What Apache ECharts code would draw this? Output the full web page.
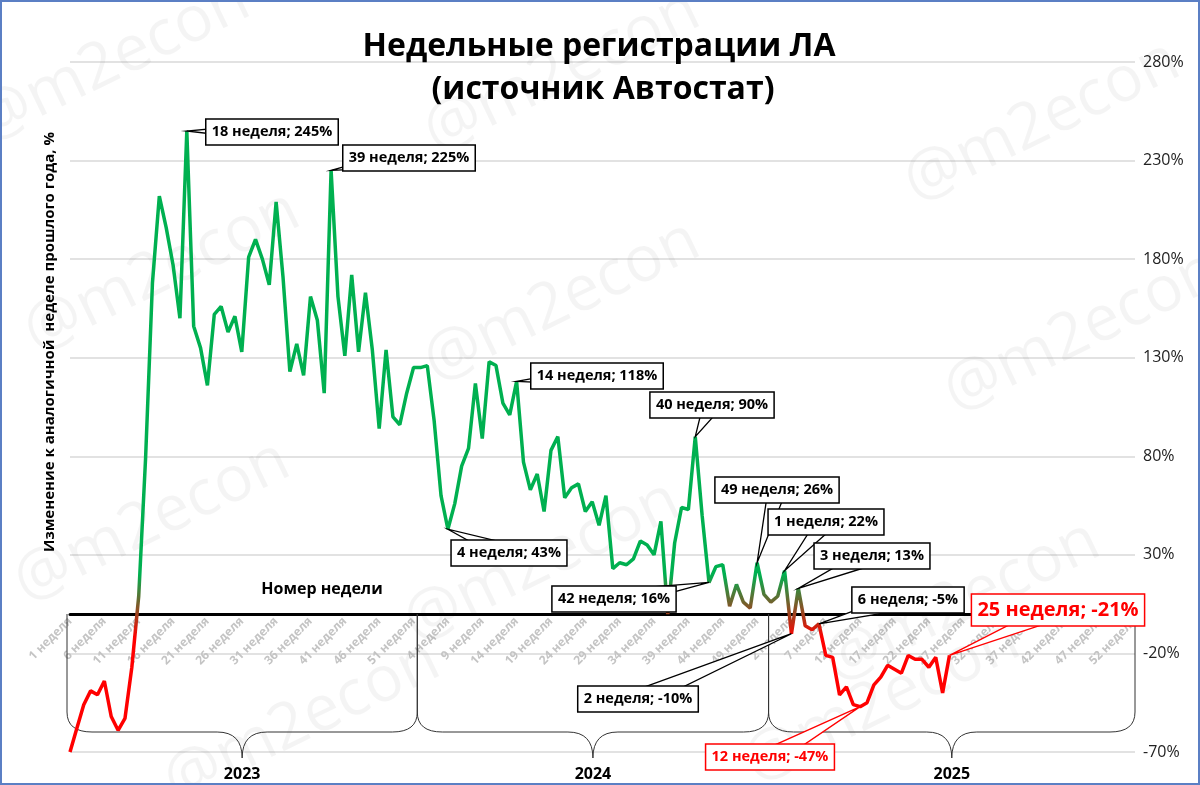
<!DOCTYPE html>
<html><head><meta charset="utf-8">
<script src="https://cdn.jsdelivr.net/npm/echarts@6/dist/echarts.min.js"></script>
<style>html,body{margin:0;padding:0;background:#fff}#c{width:1200px;height:785px;box-sizing:border-box;border:2px solid #5b7fc4}</style>
</head><body><div id="c"></div>
<script>
const weeks2023 = [-70,-58,-46,-39,-41,-34,-52,-59,-53,-27,9,79,168,212,196,177,150,245,146,135,116,152,156,143,151,133,181,190,180,167,209,171,123,137,121,161,149,112,225,161,131,172,133,163,134,94,134,100,96,112,125,125];
const weeks2024 = [126,98,60,43,56,75,84,117,89,128,126,107,101,118,77,63,71,52,83,90,59,64,66,52,57,45,60,23,26,25,28,37,35,30,47,0,36,54,53,90,50,16,24,25,4,15,6,3,26,10,6,9];
const weeks2025 = [22,-10,13,-6,-8,-5,-21,-22,-41,-37,-46,-47,-45,-36,-32,-26,-28,-30,-21,-23,-23,-27,-22,-40,-21];
const yTicks = {min:-70, max:280, interval:50};
const years = ['2023','2024','2025'];
const annotations = [
  {t:'18 неделя; 245%', i:17, v:245, bx:270, by:130},
  {t:'39 неделя; 225%', i:38, v:225, bx:407, by:156},
  {t:'14 неделя; 118%', i:65, v:118, bx:595, by:374},
  {t:'4 неделя; 43%', i:55, v:43, bx:507, by:551},
  {t:'40 неделя; 90%', i:91, v:90, bx:710, by:403},
  {t:'42 неделя; 16%', i:93, v:16, bx:612, by:597},
  {t:'49 неделя; 26%', i:100, v:26, bx:775, by:488},
  {t:'1 неделя; 22%', i:104, v:22, bx:824, by:520},
  {t:'3 неделя; 13%', i:106, v:13, bx:870, by:554},
  {t:'6 неделя; -5%', i:109, v:-5, bx:906, by:598},
  {t:'2 неделя; -10%', i:105, v:-10, bx:636, by:697},
  {t:'12 неделя; -47%', i:115, v:-47, bx:768, by:755, red:true},
  {t:'25 неделя; -21%', i:128, v:-21, bx:1056, by:608, red:true, big:true}
];
const cats = [];
const vals = [];
[weeks2023, weeks2024, weeks2025].forEach(arr => {
  for (let w = 1; w <= 52; w++) { cats.push(w + ' неделя'); vals.push(w <= arr.length ? arr[w-1] : null); }
});
const gridTop = 60, gridBottom = 31, H = 785;
const zeroPx = gridTop + (H - gridTop - gridBottom) * (yTicks.max - 0) / (yTicks.max - yTicks.min);
const bottomPx = H - gridBottom;
const chart = echarts.init(document.getElementById('c'));
chart.setOption({
  animation:false,
  grid:{left:68,right:63,top:gridTop,bottom:gridBottom},
  xAxis:{type:'category',data:cats,boundaryGap:false,
    axisLine:{onZero:true,lineStyle:{color:'#000',width:3}},axisTick:{show:false},
    axisLabel:{interval:4,rotate:45,color:'#c4c4c4',fontSize:12,fontWeight:'bold',fontFamily:'Open Sans',margin:-(bottomPx-zeroPx)+6},
    splitLine:{show:false}},
  yAxis:{type:'value',position:'right',min:yTicks.min,max:yTicks.max,interval:yTicks.interval,
    axisLine:{show:false},axisTick:{show:false},
    axisLabel:{formatter:'{value}%',color:'#222',fontSize:16,fontFamily:'Open Sans',margin:8},
    splitLine:{lineStyle:{color:'#d9d9d9',width:1.5}}},
  visualMap:{show:false,type:'continuous',dimension:1,min:-12,max:20,inRange:{color:['#ff0000','#00b050']}},
  series:[{type:'line',data:vals,showSymbol:false,connectNulls:false,lineStyle:{width:3.5},z:3}]
});
const g = [];
[[110,60],[560,70],[1040,120],[160,270],[560,300],[1080,330],[150,520],[540,560],[960,600],[300,720],[880,700]].forEach(p=>{
  g.push({type:'text',x:p[0],y:p[1],rotation:0.45,z:1,style:{text:'@m2econ',font:'64px "Open Sans"',fill:'rgba(0,0,0,0.045)',align:'center',verticalAlign:'middle'}});
});
g.push({type:'text',x:597,y:45,z:10,style:{text:'Недельные регистрации ЛА',font:'bold 32px "Open Sans"',fill:'#000',align:'center',verticalAlign:'middle'}});
g.push({type:'text',x:601,y:88,z:10,style:{text:'(источник Автостат)',font:'bold 32px "Open Sans"',fill:'#000',align:'center',verticalAlign:'middle'}});
g.push({type:'text',x:48,y:340,rotation:Math.PI/2,z:10,style:{text:'Изменение к аналогичной  неделе прошлого года, %',font:'bold 15px "Open Sans"',fill:'#000',align:'center',verticalAlign:'middle'}});
g.push({type:'text',x:320,y:587,z:10,style:{text:'Номер недели',font:'bold 16px "Open Sans"',fill:'#000',align:'center',verticalAlign:'middle'}});
const zeroY = chart.convertToPixel({yAxisIndex:0},0);
const bs = {stroke:'#333',lineWidth:1,fill:null};
const shift = [-3,-10,-16];
years.forEach((y,k)=>{
  const x0 = chart.convertToPixel({xAxisIndex:0},k*52) + shift[k];
  const x1 = k<2 ? chart.convertToPixel({xAxisIndex:0},(k+1)*52) + shift[k+1] : chart.convertToPixel({xAxisIndex:0},155);
  const m = (x0+x1)/2, yb = 730, tip = 756;
  g.push({type:'line',z:2,shape:{x1:x0,y1:zeroY,x2:x0,y2:yb-20},style:bs});
  g.push({type:'bezierCurve',z:2,shape:{x1:x0,y1:yb-20,cpx1:x0,cpy1:yb,x2:x0+25,y2:yb},style:bs});
  g.push({type:'line',z:2,shape:{x1:x0+25,y1:yb,x2:m-25,y2:yb},style:bs});
  g.push({type:'bezierCurve',z:2,shape:{x1:m-25,y1:yb,cpx1:m,cpy1:yb,x2:m,y2:tip},style:bs});
  g.push({type:'bezierCurve',z:2,shape:{x1:m,y1:tip,cpx1:m,cpy1:yb,x2:m+25,y2:yb},style:bs});
  g.push({type:'line',z:2,shape:{x1:m+25,y1:yb,x2:x1-25,y2:yb},style:bs});
  g.push({type:'bezierCurve',z:2,shape:{x1:x1-25,y1:yb,cpx1:x1,cpy1:yb,x2:x1,y2:yb-20},style:bs});
  g.push({type:'line',z:2,shape:{x1:x1,y1:yb-20,x2:x1,y2:zeroY},style:bs});
  g.push({type:'text',x:m,y:772,z:10,style:{text:y,font:'bold 16px "Open Sans"',fill:'#000',align:'center',verticalAlign:'middle'}});
});
const ctx = document.createElement('canvas').getContext('2d');
annotations.forEach(a=>{
  const p = chart.convertToPixel({xAxisIndex:0,yAxisIndex:0},[a.i,a.v]);
  const font = a.big ? 'bold 20px "Open Sans"' : 'bold 14.5px "Open Sans"';
  ctx.font = font;
  const w = ctx.measureText(a.t).width + 12, h = a.big ? 32 : 26;
  const col = a.red ? '#ff0000' : '#000';
  const dx = p[0]-a.bx, dy = p[1]-a.by;
  const len = Math.hypot(dx,dy)||1;
  const nx = -dy/len*9, ny = dx/len*9;
  g.push({type:'polygon',z:20,shape:{points:[[a.bx+nx,a.by+ny],[a.bx-nx,a.by-ny],[p[0],p[1]]]},style:{fill:'#fff',stroke:col,lineWidth:1.3}});
  g.push({type:'rect',z:21,shape:{x:a.bx-w/2,y:a.by-h/2,width:w,height:h},style:{fill:'#fff',stroke:col,lineWidth:1.5}});
  g.push({type:'text',z:22,x:a.bx,y:a.by,style:{text:a.t,font:font,fill:col,align:'center',verticalAlign:'middle'}});
});
chart.setOption({graphic:g});
</script></body></html>
